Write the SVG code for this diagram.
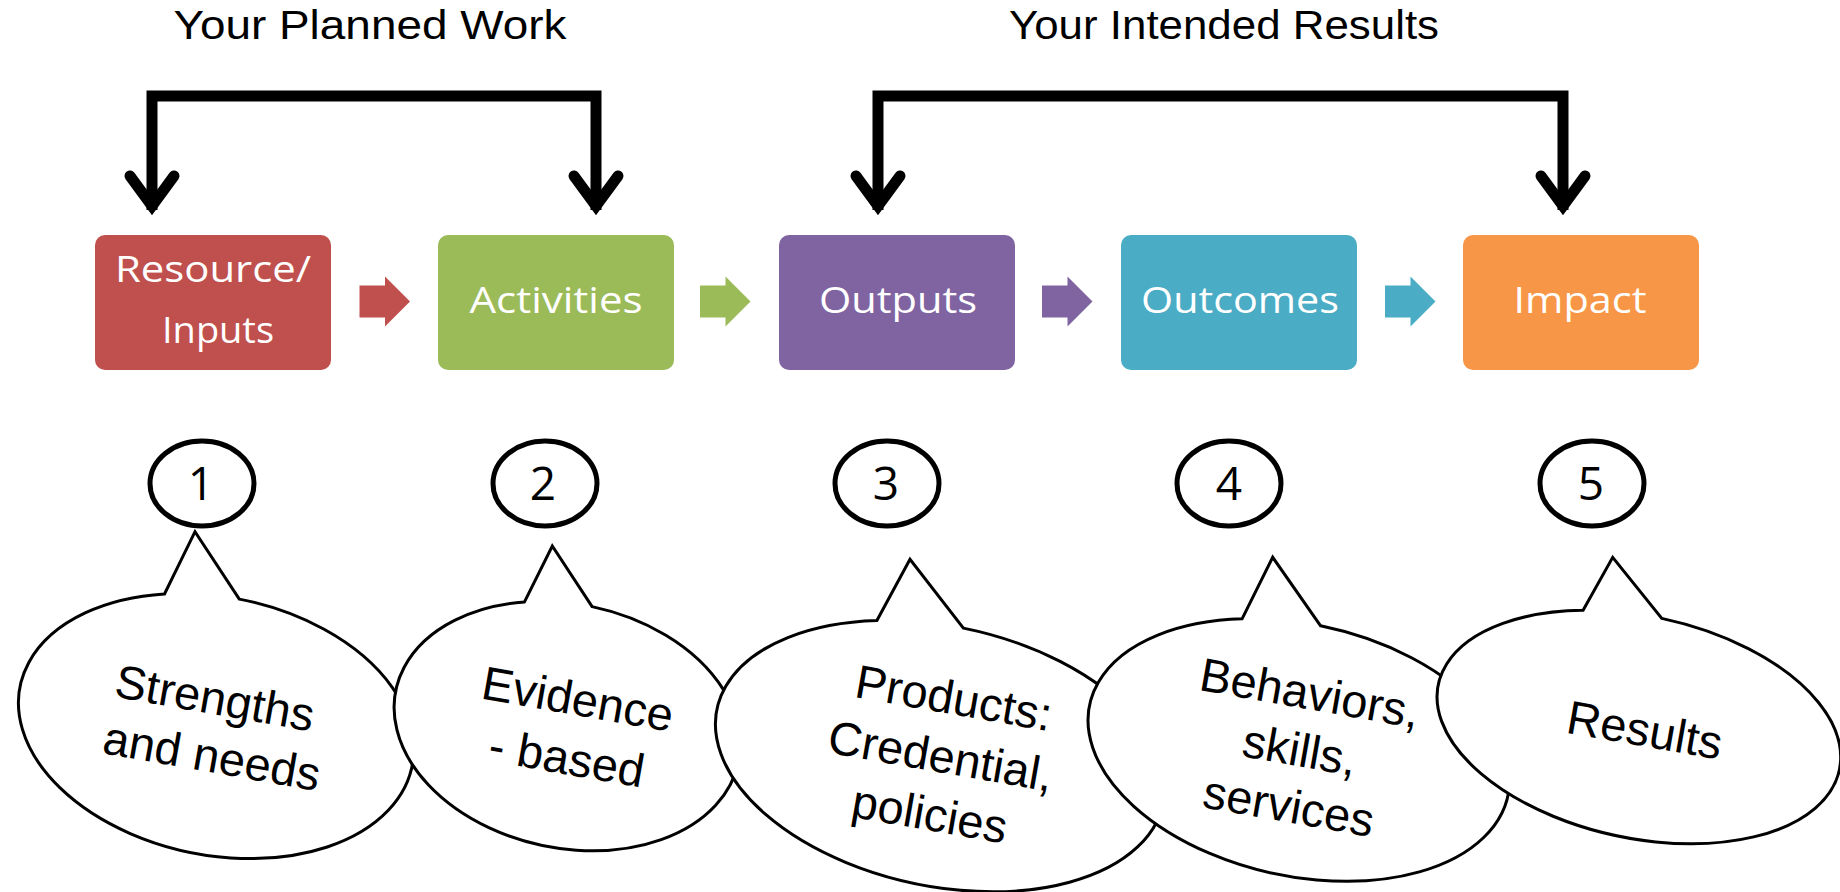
<svg xmlns="http://www.w3.org/2000/svg" width="1840" height="892" viewBox="0 0 1840 892">
<style>
.title{font-family:"Liberation Sans",Arial,sans-serif;font-size:41px;fill:#000;text-anchor:middle}
.box{stroke:none}
.lbl{font-family:"Open Sans","Liberation Sans",sans-serif;font-size:36px;fill:#fff;text-anchor:middle}
.num{font-family:"Open Sans","Liberation Sans",sans-serif;font-size:46px;fill:#000;text-anchor:middle}
.circ{fill:#fff;stroke:#000;stroke-width:5}
.bub{fill:#fff;stroke:#000;stroke-width:3;stroke-linejoin:miter}
.btxt{font-family:"Liberation Sans",Arial,sans-serif;font-size:47px;fill:#000;text-anchor:middle}
.bracket{fill:none;stroke:#000;stroke-width:11;stroke-linejoin:miter}
.chev{fill:none;stroke:#000;stroke-width:11;stroke-linecap:round;stroke-linejoin:miter;stroke-miterlimit:10}
</style>
<defs>
<polygon id="blk" points="0,-16 25.5,-16 25.5,-25 50.5,0 25.5,25 25.5,16 0,16"/>
<polyline id="chv" points="-22,176 0,206 22,176"/>
</defs>
<rect width="1840" height="892" fill="#fff"/>
<g id="titles">
<text class="title" x="370" y="39" textLength="393" lengthAdjust="spacingAndGlyphs">Your Planned Work</text>
<text class="title" x="1224" y="39" textLength="430" lengthAdjust="spacingAndGlyphs">Your Intended Results</text>
</g>
<g id="connectors">
<path class="bracket" d="M152,210 V96 H596 V210"/>
<use href="#chv" class="chev" x="152"/>
<use href="#chv" class="chev" x="596"/>
<path class="bracket" d="M878,210 V96 H1563 V210"/>
<use href="#chv" class="chev" x="878"/>
<use href="#chv" class="chev" x="1563"/>
<use href="#blk" x="359.5" y="301.5" fill="#C0504D"/>
<use href="#blk" x="700" y="301.5" fill="#9BBB59"/>
<use href="#blk" x="1042" y="301.5" fill="#8064A2"/>
<use href="#blk" x="1385" y="301.5" fill="#4BACC6"/>
</g>
<g id="node-resource">
<rect class="box" x="95" y="235" width="236" height="135" rx="10" fill="#C0504D"/>
<text class="lbl" x="213" y="282" textLength="196" lengthAdjust="spacingAndGlyphs">Resource/</text>
<text class="lbl" x="218" y="343" textLength="112" lengthAdjust="spacingAndGlyphs">Inputs</text>
</g>
<g id="node-activities">
<rect class="box" x="438" y="235" width="236" height="135" rx="10" fill="#9BBB59"/>
<text class="lbl" x="556" y="313" textLength="173" lengthAdjust="spacingAndGlyphs">Activities</text>
</g>
<g id="node-outputs">
<rect class="box" x="779" y="235" width="236" height="135" rx="10" fill="#8064A2"/>
<text class="lbl" x="898" y="313" textLength="158" lengthAdjust="spacingAndGlyphs">Outputs</text>
</g>
<g id="node-outcomes">
<rect class="box" x="1121" y="235" width="236" height="135" rx="10" fill="#4BACC6"/>
<text class="lbl" x="1240" y="313" textLength="198" lengthAdjust="spacingAndGlyphs">Outcomes</text>
</g>
<g id="node-impact">
<rect class="box" x="1463" y="235" width="236" height="135" rx="10" fill="#F79646"/>
<text class="lbl" x="1580" y="313" textLength="133" lengthAdjust="spacingAndGlyphs">Impact</text>
</g>
<g id="num-1"><ellipse class="circ" cx="202" cy="483.5" rx="52" ry="42.5"/><text class="num" x="201" y="499.5">1</text></g>
<g id="num-2"><ellipse class="circ" cx="545" cy="483.5" rx="52" ry="42.5"/><text class="num" x="543" y="499.5">2</text></g>
<g id="num-3"><ellipse class="circ" cx="887" cy="483.5" rx="52" ry="42.5"/><text class="num" x="886" y="499.5">3</text></g>
<g id="num-4"><ellipse class="circ" cx="1229" cy="483.5" rx="52" ry="42.5"/><text class="num" x="1229" y="499.5">4</text></g>
<g id="num-5"><ellipse class="circ" cx="1592" cy="483.5" rx="52" ry="42.5"/><text class="num" x="1591" y="499.5">5</text></g>
<g id="bubble-1">
<path class="bub" d="M239.3,599.1 A200,129 11.5 1 1 164.5,594 L195,531.7 Z"/>
<text class="btxt" transform="translate(212,714) rotate(10)">Strengths</text>
<text class="btxt" transform="translate(209,772) rotate(10)">and needs</text>
</g>
<g id="bubble-2">
<path class="bub" d="M592.1,606.6 A175,122 12 1 1 524.5,601.9 L552.3,546 Z"/>
<text class="btxt" transform="translate(575,715) rotate(10)">Evidence</text>
<text class="btxt" transform="translate(564,774) rotate(10)">- based</text>
</g>
<g id="bubble-3">
<path class="bub" d="M963.4,628.1 A228,130 12 1 1 876.9,620.5 L910,559.3 Z"/>
<text class="btxt" transform="translate(951,714) rotate(10)">Products:</text>
<text class="btxt" transform="translate(938,772) rotate(10)">Credential,</text>
<text class="btxt" transform="translate(927,830) rotate(10)">policies</text>
</g>
<g id="bubble-4">
<path class="bub" d="M1320.6,625.8 A214,126 12.35 1 1 1242.1,618.8 L1272.7,557.3 Z"/>
<text class="btxt" transform="translate(1307,709) rotate(10)">Behaviors,</text>
<text class="btxt" transform="translate(1297,766) rotate(10)">skills,</text>
<text class="btxt" transform="translate(1286,822) rotate(10)">services</text>
</g>
<g id="bubble-5">
<path class="bub" d="M1661.8,618.4 A205,111 12.1 1 1 1583.1,610.3 L1612.7,557.3 Z"/>
<text class="btxt" transform="translate(1642,746) rotate(10)">Results</text>
</g>
</svg>
